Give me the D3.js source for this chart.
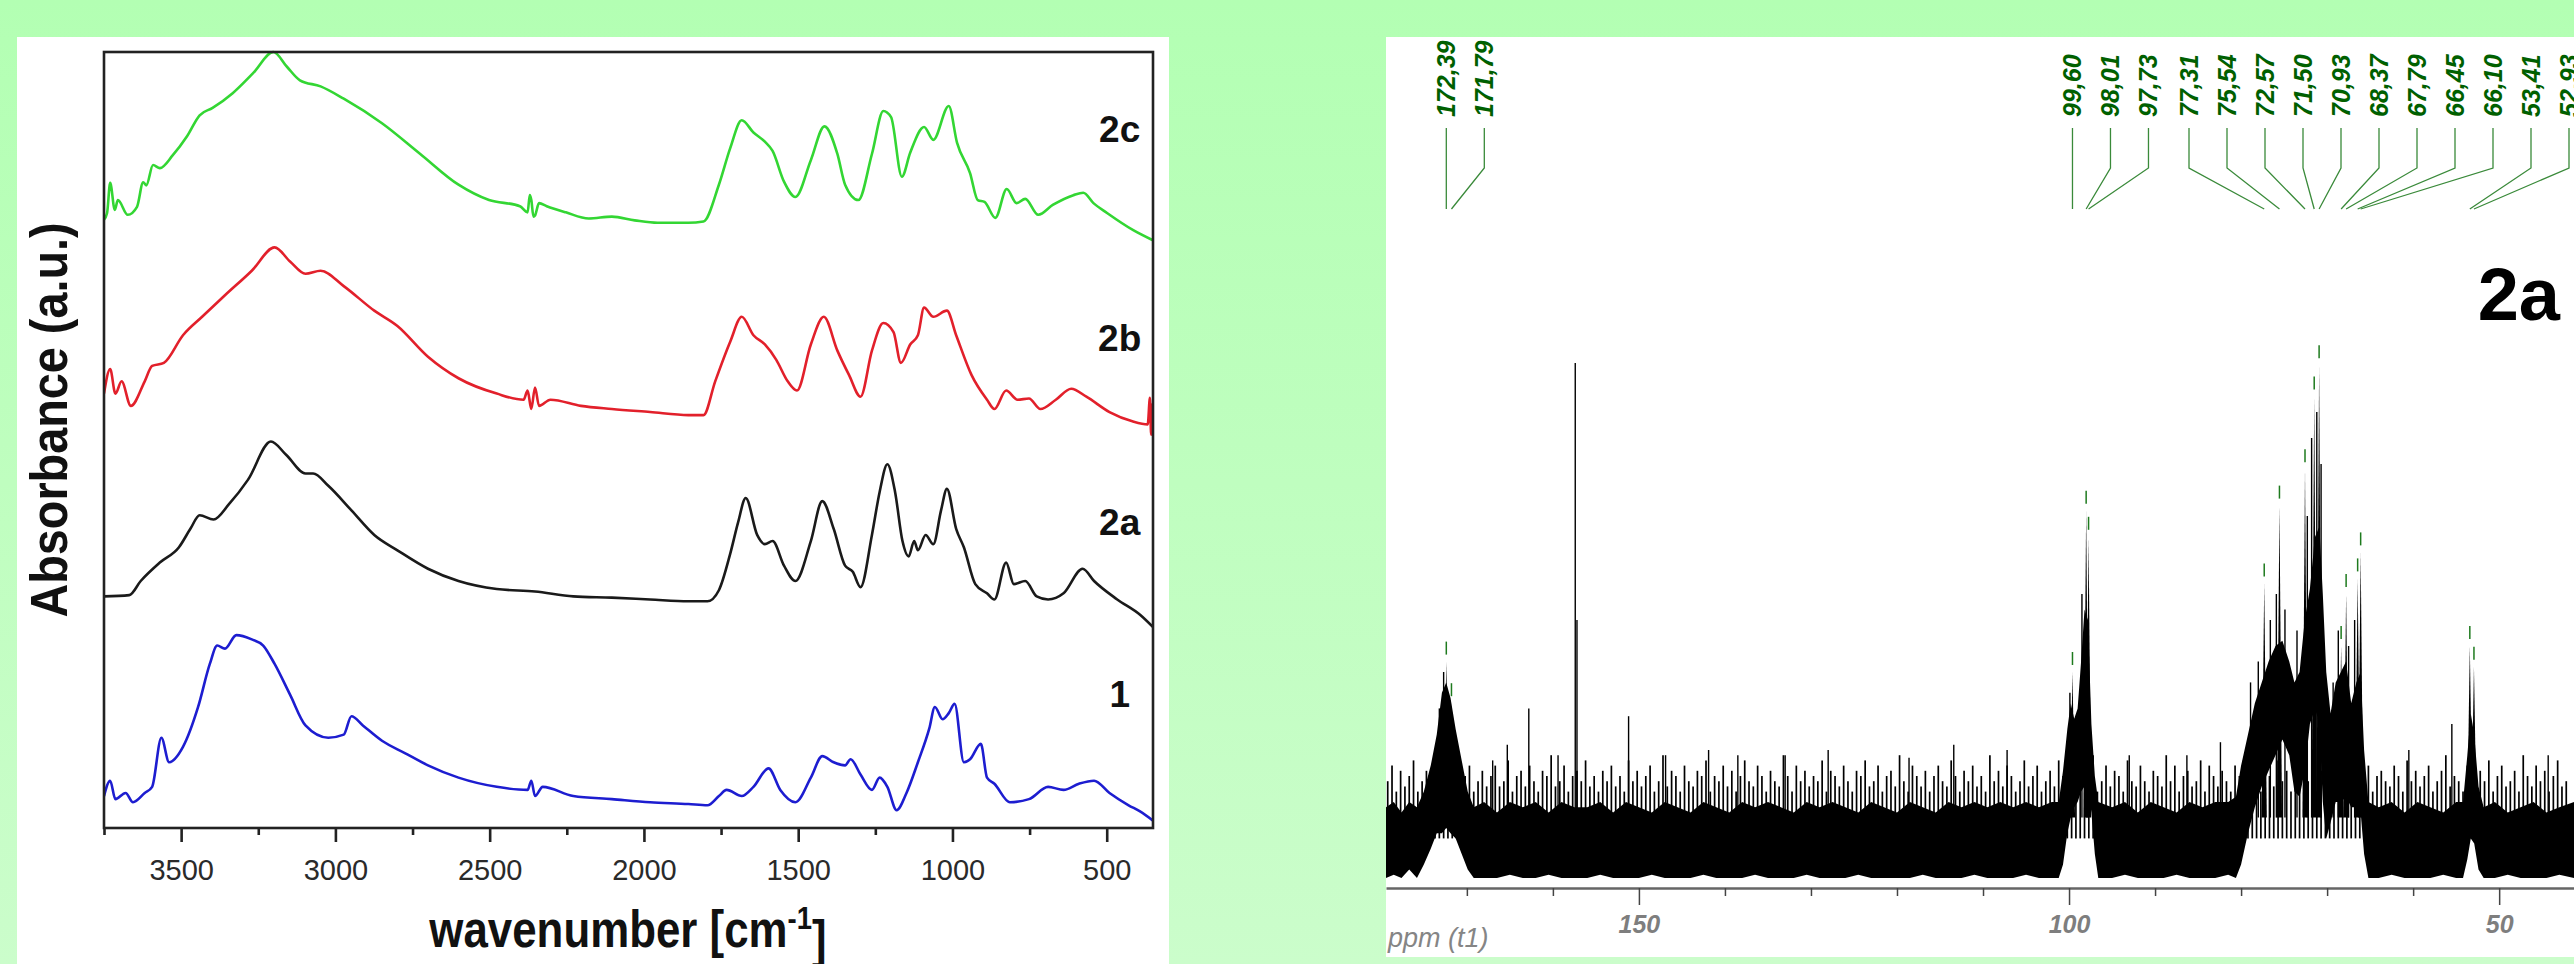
<!DOCTYPE html>
<html>
<head>
<meta charset="utf-8">
<script src="https://cdn.jsdelivr.net/npm/d3@7"></script>
<style>
  body { margin: 0; background: linear-gradient(#b3ffb3, #cbfdcb); }
  svg { display: block; }
  text { font-family: "Liberation Sans", Arial, sans-serif; }
</style>
</head>
<body>
<script>
// ---------- IR spectra: [wavenumber cm-1, absorbance (a.u.)] ----------
const ir2c = [[3750,0.990],[3740,1.001],[3730,1.050],[3715,1.006],[3705,1.022],[3673,0.998],[3643,1.011],[3623,1.051],[3613,1.046],[3591,1.079],[3569,1.074],[3527,1.095],[3482,1.125],[3440,1.160],[3398,1.172],[3333,1.196],[3266,1.229],[3201,1.263],[3157,1.239],[3115,1.217],[3048,1.207],[2973,1.187],[2849,1.147],[2725,1.097],[2601,1.047],[2502,1.022],[2402,1.012],[2377,1.002],[2370,1.030],[2365,1.022],[2358,0.995],[2353,0.997],[2340,1.017],[2315,1.012],[2253,1.002],[2179,0.992],[2104,0.995],[2030,0.989],[1956,0.985],[1856,0.985],[1807,0.987],[1757,1.047],[1720,1.107],[1683,1.152],[1645,1.132],[1608,1.117],[1583,1.102],[1546,1.052],[1509,1.027],[1459,1.087],[1415,1.142],[1373,1.097],[1348,1.047],[1305,1.022],[1261,1.097],[1224,1.167],[1199,1.157],[1164,1.060],[1137,1.099],[1092,1.141],[1062,1.120],[1012,1.175],[985,1.115],[943,1.066],[918,1.022],[896,1.019],[861,0.993],[824,1.040],[792,1.017],[764,1.024],[722,0.998],[675,1.014],[608,1.030],[576,1.034],[543,1.017],[499,1.001],[414,0.973],[352,0.957]];

const ir2b = [[3750,0.707],[3730,0.747],[3713,0.707],[3693,0.727],[3663,0.687],[3618,0.727],[3594,0.752],[3556,0.757],[3494,0.802],[3432,0.832],[3358,0.867],[3271,0.907],[3197,0.945],[3147,0.922],[3097,0.902],[3048,0.907],[2973,0.882],[2874,0.842],[2799,0.817],[2700,0.767],[2601,0.732],[2477,0.707],[2390,0.697],[2377,0.712],[2365,0.682],[2353,0.717],[2340,0.687],[2303,0.697],[2204,0.687],[2104,0.682],[1980,0.677],[1856,0.672],[1807,0.672],[1769,0.727],[1720,0.792],[1683,0.832],[1645,0.802],[1608,0.787],[1571,0.762],[1534,0.727],[1504,0.712],[1459,0.787],[1417,0.832],[1373,0.777],[1335,0.737],[1298,0.702],[1261,0.777],[1224,0.822],[1191,0.807],[1167,0.757],[1137,0.787],[1112,0.802],[1092,0.847],[1062,0.832],[1018,0.842],[988,0.802],[938,0.737],[888,0.697],[864,0.682],[826,0.712],[789,0.697],[752,0.699],[715,0.682],[665,0.697],[615,0.715],[566,0.702],[491,0.677],[417,0.662],[367,0.657],[360,0.700],[356,0.640],[352,0.690],[350,0.650]];

const ir2a = [[3750,0.377],[3668,0.379],[3631,0.402],[3569,0.432],[3507,0.457],[3470,0.487],[3440,0.509],[3395,0.502],[3345,0.527],[3283,0.567],[3209,0.629],[3159,0.607],[3097,0.577],[3072,0.577],[3023,0.557],[2948,0.517],[2874,0.477],[2799,0.452],[2700,0.422],[2601,0.402],[2477,0.389],[2353,0.385],[2229,0.377],[2104,0.375],[1980,0.372],[1856,0.369],[1794,0.369],[1757,0.387],[1720,0.447],[1695,0.497],[1670,0.537],[1633,0.477],[1608,0.462],[1583,0.467],[1546,0.427],[1509,0.402],[1459,0.467],[1422,0.532],[1385,0.487],[1348,0.427],[1323,0.417],[1298,0.392],[1261,0.477],[1236,0.547],[1211,0.592],[1186,0.547],[1162,0.467],[1142,0.442],[1124,0.467],[1112,0.452],[1087,0.477],[1062,0.462],[1037,0.517],[1018,0.552],[988,0.487],[963,0.457],[926,0.397],[888,0.382],[864,0.372],[826,0.432],[801,0.397],[764,0.402],[727,0.377],[690,0.372],[640,0.382],[578,0.422],[541,0.402],[466,0.372],[392,0.347],[350,0.327]];

const ir1 = [[3750,0.052],[3730,0.077],[3713,0.047],[3680,0.057],[3656,0.042],[3618,0.057],[3594,0.067],[3564,0.147],[3539,0.107],[3494,0.132],[3445,0.197],[3407,0.267],[3383,0.297],[3358,0.292],[3321,0.314],[3271,0.307],[3234,0.297],[3197,0.267],[3147,0.217],[3097,0.167],[3023,0.147],[2973,0.152],[2948,0.182],[2911,0.167],[2849,0.142],[2775,0.122],[2700,0.102],[2601,0.082],[2477,0.067],[2377,0.062],[2365,0.077],[2353,0.052],[2328,0.067],[2229,0.052],[2104,0.047],[1980,0.042],[1856,0.039],[1794,0.037],[1757,0.052],[1732,0.062],[1683,0.052],[1645,0.067],[1596,0.097],[1558,0.062],[1509,0.042],[1459,0.082],[1422,0.117],[1385,0.107],[1348,0.102],[1330,0.112],[1298,0.087],[1261,0.062],[1236,0.082],[1211,0.067],[1181,0.029],[1149,0.057],[1112,0.107],[1075,0.162],[1057,0.197],[1032,0.177],[1012,0.187],[993,0.202],[963,0.107],[943,0.112],[908,0.137],[888,0.082],[864,0.072],[814,0.042],[752,0.047],[690,0.067],[640,0.062],[590,0.072],[541,0.077],[491,0.057],[429,0.037],[392,0.027],[350,0.012]];

const irNames = ["2c", "2b", "2a", "1"];
const irLabelLevels = [1.117, 0.776, 0.477, 0.197];
const irTicks = [3500, 3000, 2500, 2000, 1500, 1000, 500];
const irMinorTicks = [3750, 3250, 2750, 2250, 1750, 1250, 750];

// ---------- 13C NMR of 2a: ppm vs intensity ----------
const nmrPpm   = [179.4,178.5,177.6,176.7,175.8,175.0,174.2,173.5,172.9,172.4,171.9,171.3,170.6,169.9,169.2,168.0,166.5,165.0,163.5,162.0,160.5,159.0,157.5,156.0,154.5,153.0,151.5,150.0,148.5,147.0,145.5,144.0,142.5,141.0,139.5,138.0,136.5,135.0,133.5,132.0,130.5,129.0,127.5,126.0,124.5,123.0,121.5,120.0,118.5,117.0,115.5,114.0,112.5,111.0,109.5,108.0,106.5,105.0,103.5,102.0,101.2,100.7,100.2,99.8,99.4,99.0,98.6,98.2,97.8,97.4,97.0,96.6,95.0,93.5,92.0,90.5,89.0,87.5,86.0,84.5,83.0,81.5,80.6,80.0,79.2,78.4,77.6,76.8,76.0,75.2,74.4,73.8,73.2,72.6,72.0,71.4,70.9,70.5,70.1,69.6,69.0,68.4,67.8,67.2,66.6,66.1,65.7,65.2,64.0,62.5,61.0,59.5,58.0,56.5,55.0,54.2,53.7,53.3,52.9,52.4,51.8,50.5,49.0,47.5,46.0,44.5,43.0,41.3];
const nmrUpper = [14,15,13,15,14,17,22,28,36,38,35,29,23,17,14,15,13,15,14,15,13,15,14,14,15,13,15,14,13,15,14,13,15,14,13,15,14,15,14,13,15,14,15,14,13,15,14,13,15,14,13,15,14,15,14,15,14,15,14,15,15,21,29,34,31,33,42,52,50,30,20,15,14,15,13,15,14,13,15,14,15,15,16,22,28,34,38,42,45,46,42,38,40,50,56,66,68,55,40,32,38,40,42,34,38,40,25,15,14,15,13,15,14,13,15,15,24,32,28,18,14,15,13,14,15,13,14,15];
const nmrLower = [0.4,1,0.4,2,0.4,3,6,9,9,10,9,8,5,2,0.4,0.4,0.4,1,0.4,0.4,1,0.4,0.4,0.4,1,0.4,0.4,0.4,1,0.4,0.4,0.4,1,0.4,0.4,0.4,1,0.4,0.4,0.4,1,0.4,0.4,0.4,1,0.4,0.4,0.4,0.4,1,0.4,0.4,0.4,1,0.4,0.4,0.4,1,0.4,0.4,0.4,3,9,12,14,15,17,18,18,13,5,0.4,0.4,1,0.4,0.4,0.4,1,0.4,0.4,0.4,1,0.4,3,9,14,18,21,24,27,24,17,16,21,30,33,30,15,8,11,15,15,16,14,14,13,5,0.4,0.4,1,0.4,0.4,0.4,1,0.4,0.4,4,8,7,2,0.4,0.4,1,0.4,0.4,0.4,1,0.4];

// noise fringe on a 0.5 ppm grid from 179.2 ppm downward (top of each trace excursion)
const nmrFringe = [
 19,22,17,21,18,20,23,17,19,21,18,22,20,17,21,19,24,18,20,22,17,19,21,18,20,
 22,18,19,23,17,20,21,18,22,19,17,21,20,24,18,19,22,17,20,21,19,23,18,20,17,
 21,19,22,18,20,17,23,19,21,18,20,22,17,19,24,18,21,20,17,22,19,18,21,20,23,
 17,20,19,22,18,21,17,20,23,19,18,22,20,17,21,19,18,24,20,17,22,19,21,18,20,
 19,23,17,21,20,18,22,19,17,21,20,23,18,19,22,17,20,21,18,24,19,17,22,20,18,
 21,17,20,22,19,18,23,20,17,21,19,22,18,20,17,24,19,21,18,22,20,17,19,23,18,
 20,22,17,19,21,18,23,20,19,17,22,21,18,20,24,17,19,22,18,21,20,17,23,19,18,
 22,19,17,21,20,18,24,19,22,17,20,21,18,19,23,17,22,20,18,21,19,17,22,20,23,
 18,21,19,17,22,20,18,23,19,21,17,20,22,18,19,24,17,21,20,18,22,19,17,21,20,
 23,18,19,22,17,20,21,19,18,22,20,17,23,19,21,18,20,22,17,19,21,24,18,20,19,
 17,22,20,18,21,19,23,17,20,22,18,19,21,17,24,20,18,22,19,21,17,20,23,18,19];
const fringeStart = 179.2, fringeStep = 0.5;

// isolated noise spikes and unassigned lines: [ppm, intensity]
const nmrSpikes = [[157.4,99.4],[157.2,50],[162.8,33],[165.3,26],[151.2,31.5],[146.9,24],[118.6,23.5],[82.4,26.5],[55.5,30],[172.7,40],[173.2,33],[99.9,36],[98.5,55],[78.9,38],[78.0,42],[76.6,50],[75.9,55],[74.9,52],[73.5,48],[72.3,70],[71.8,85],[71.2,90],[70.7,80],[69.3,38],[68.7,48],[67.5,45],[66.8,50],[167.0,23],[159.4,24],[138.5,24],[128.0,25],[107.2,25],[133.0,24],[93.0,24],[86.3,24],[44.3,24],[60.5,25],[113.4,26],[141.9,25]];

// picked peaks
const peakShifts  = [172.39,171.79,99.60,98.01,97.73,77.31,75.54,72.57,71.50,70.93,68.37,67.79,66.45,66.10,53.41,52.93];
const peakHeights = [42,34,40,71,66,57,72,79,93,99,45,55,58,63,45,41];
const nmrTicks = [150, 100, 50];

// ---------- layout ----------
const W = 2574, H = 964;
const svg = d3.select("body").append("svg").attr("width", W).attr("height", H);

// white panels
svg.append("rect").attr("x", 17).attr("y", 37).attr("width", 1152).attr("height", H - 37).attr("fill", "#fff");
svg.append("rect").attr("x", 1386).attr("y", 37).attr("width", W - 1386).attr("height", 920).attr("fill", "#fff");

// ================= IR panel =================
const x1 = d3.scaleLinear().domain([3750, 350]).range([104, 1153]);
const y1 = d3.scaleLinear().domain([0, 1.263]).range([828, 52]);

svg.append("clipPath").attr("id", "irclip").append("rect")
  .attr("x", 104).attr("y", 48).attr("width", 1049).attr("height", 780);

const irColors = ["#33d633", "#e2202b", "#1a1a1a", "#1d1dd0"];
const irLine = d3.line().x(d => x1(d[0])).y(d => y1(d[1])).curve(d3.curveMonotoneX);

const irG = svg.append("g").attr("clip-path", "url(#irclip)");
[ir2c, ir2b, ir2a, ir1].forEach((s, i) => {
  irG.append("path").datum(s)
    .attr("d", irLine)
    .attr("fill", "none")
    .attr("stroke", irColors[i])
    .attr("stroke-width", 2.6)
    .attr("stroke-linejoin", "round");
});

irNames.forEach((n, i) => {
  svg.append("text")
    .attr("x", x1(458)).attr("y", y1(irLabelLevels[i]))
    .attr("text-anchor", "middle")
    .style("font-size", "37px").style("font-weight", "bold")
    .attr("fill", "#111")
    .text(n);
});

// frame
svg.append("rect").attr("x", 104).attr("y", 52).attr("width", 1049).attr("height", 776)
  .attr("fill", "none").attr("stroke", "#222").attr("stroke-width", 2.6);

const ax1 = svg.append("g").attr("transform", "translate(0,828)")
  .call(d3.axisBottom(x1).tickValues(irTicks).tickFormat(d3.format("d"))
    .tickSize(14).tickPadding(17).tickSizeOuter(0));
ax1.select(".domain").remove();
ax1.selectAll("line").attr("stroke", "#222").attr("stroke-width", 2.6);
ax1.selectAll("text").style("font-size", "29px").attr("fill", "#2a2a2a");

const ax1m = svg.append("g").attr("transform", "translate(0,828)")
  .call(d3.axisBottom(x1).tickValues(irMinorTicks).tickSize(7).tickFormat("").tickSizeOuter(0));
ax1m.select(".domain").remove();
ax1m.selectAll("line").attr("stroke", "#222").attr("stroke-width", 2.6);

// axis titles
const xt = svg.append("text")
  .attr("transform", "translate(628,947) scale(0.86,1)")
  .attr("text-anchor", "middle")
  .style("font-size", "51px").style("font-weight", "bold").attr("fill", "#111");
xt.append("tspan").text("wavenumber [cm");
xt.append("tspan").attr("dy", "-0.55em").style("font-size", "32px").text("-1");
xt.append("tspan").attr("dy", "0.55em").text("]");

svg.append("text")
  .attr("transform", "translate(67,420) rotate(-90) scale(0.9,1)")
  .attr("text-anchor", "middle")
  .style("font-size", "52px").style("font-weight", "bold").attr("fill", "#111")
  .text("Absorbance (a.u.)");

// ================= NMR panel =================
const x2 = d3.scaleLinear().domain([179.4, 41.3]).range([1386, 2574]);
const y2 = d3.scaleLinear().domain([0, 100]).range([880, 360]);

svg.append("clipPath").attr("id", "nmrclip").append("rect")
  .attr("x", 1386).attr("y", 37).attr("width", W - 1386).attr("height", 920);
const nG = svg.append("g").attr("clip-path", "url(#nmrclip)");

const band = nmrPpm.map((p, i) => ({ p, hi: nmrUpper[i], lo: nmrLower[i] }));
nG.append("path").datum(band)
  .attr("d", d3.area().x(d => x2(d.p)).y0(d => y2(d.lo)).y1(d => y2(d.hi)))
  .attr("fill", "#000");

nG.selectAll(".fringe").data(nmrFringe).enter().append("line")
  .attr("x1", (d, i) => x2(fringeStart - i * fringeStep))
  .attr("x2", (d, i) => x2(fringeStart - i * fringeStep))
  .attr("y1", y2(8)).attr("y2", d => y2(d))
  .attr("stroke", "#000").attr("stroke-width", 1.7);

nG.selectAll(".spike").data(nmrSpikes).enter().append("line")
  .attr("x1", d => x2(d[0])).attr("x2", d => x2(d[0]))
  .attr("y1", y2(12)).attr("y2", d => y2(d[1]))
  .attr("stroke", "#000").attr("stroke-width", 1.4);

const tri = d3.line().x(d => x2(d[0])).y(d => y2(d[1]));
nG.selectAll(".peak").data(peakShifts).enter().append("path")
  .attr("d", (p, i) => tri([[p + 0.3, 12], [p, peakHeights[i]], [p - 0.3, 12]]) + "Z")
  .attr("fill", "#000");

// peak markers
nG.selectAll(".mark").data(peakShifts).enter().append("line")
  .attr("x1", d => x2(d)).attr("x2", d => x2(d))
  .attr("y1", (d, i) => y2(peakHeights[i]) - 7)
  .attr("y2", (d, i) => y2(peakHeights[i]) - 20)
  .attr("stroke", "#1e7a1e").attr("stroke-width", 1.5);

// label layout: keep labels at least `gap` apart, inside the panel
const gap = 38, rightLimit = 2569;
const lx = peakShifts.map(p => x2(p));
for (let i = 1; i < lx.length; i++) lx[i] = Math.max(lx[i], lx[i - 1] + gap);
lx[lx.length - 1] = Math.min(lx[lx.length - 1], rightLimit);
for (let i = lx.length - 2; i >= 0; i--) lx[i] = Math.min(lx[i], lx[i + 1] - gap);

const fmt = d3.format(".2f");
peakShifts.forEach((p, i) => {
  svg.append("polyline")
    .attr("points", `${lx[i]},128 ${lx[i]},168 ${x2(p)},209`)
    .attr("fill", "none").attr("stroke", "#3a8a3a").attr("stroke-width", 1.3);
  svg.append("text")
    .attr("transform", `translate(${lx[i]},117) rotate(-90)`)
    .attr("dy", "0.36em")
    .style("font-size", "25px").style("font-style", "italic").style("font-weight", "bold")
    .attr("fill", "#006000")
    .text(fmt(p).replace(".", ","));
});

svg.append("text")
  .attr("x", 2560).attr("y", 320)
  .attr("text-anchor", "end")
  .style("font-size", "74px").style("font-weight", "bold").attr("fill", "#000")
  .text("2a");

// NMR axis
const ax2 = svg.append("g").attr("transform", "translate(0,888)")
  .call(d3.axisBottom(x2).tickValues(nmrTicks).tickSize(17).tickPadding(10).tickSizeOuter(0));
ax2.select(".domain").attr("stroke", "#666").attr("stroke-width", 2.5);
ax2.selectAll("line").attr("stroke", "#444").attr("stroke-width", 1.5);
ax2.selectAll("text").style("font-size", "25px").style("font-style", "italic")
  .style("font-weight", "bold").attr("fill", "#7e7e7e");

const ax2m = svg.append("g").attr("transform", "translate(0,888)")
  .call(d3.axisBottom(x2).tickValues(d3.range(170, 40, -10).filter(v => v % 50 !== 0))
    .tickSize(8).tickFormat("").tickSizeOuter(0));
ax2m.select(".domain").remove();
ax2m.selectAll("line").attr("stroke", "#444").attr("stroke-width", 1.5);

svg.append("text")
  .attr("x", 1388).attr("y", 947)
  .style("font-size", "27px").style("font-style", "italic").attr("fill", "#858585")
  .text("ppm (t1)");
</script>
</body>
</html>
